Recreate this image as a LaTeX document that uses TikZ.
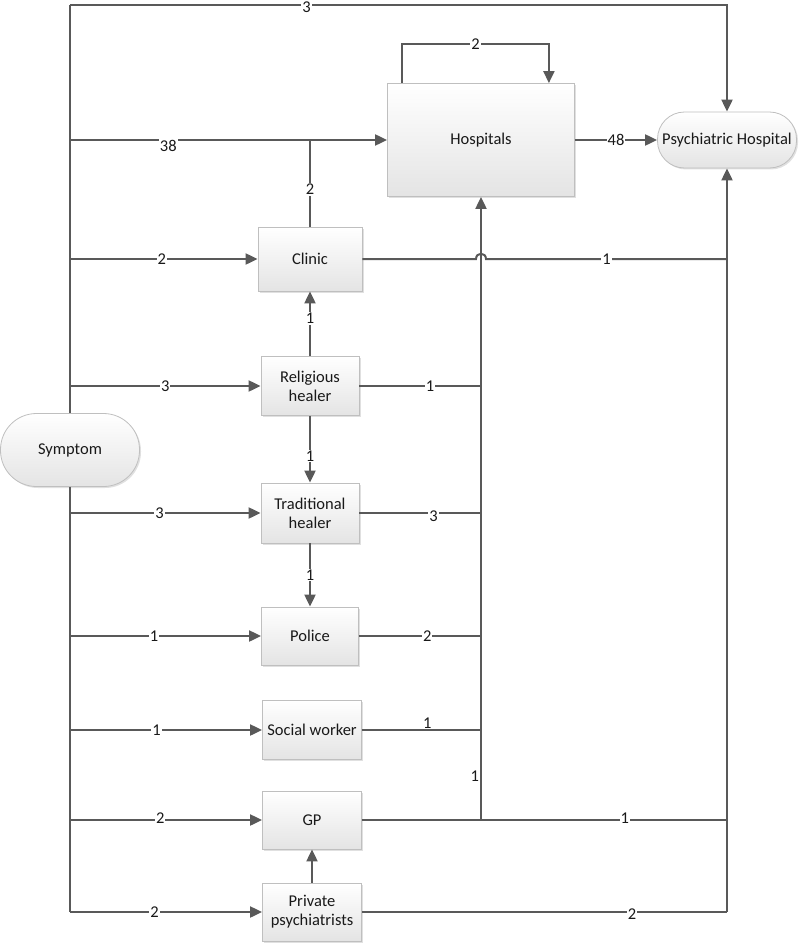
\documentclass[tikz,border=0pt]{standalone}
\usepackage{fontspec}
\setmainfont{Carlito}
\usetikzlibrary{arrows.meta,shadows,calc}
\definecolor{lc}{HTML}{595959}
\definecolor{bd}{HTML}{BFBFBF}
\definecolor{bg}{HTML}{E4E4E4}
\tikzset{
  box/.style={draw=bd, line width=0.8pt, top color=white, bottom color=bg, align=center,
    drop shadow={shadow xshift=1.5pt, shadow yshift=-1.5pt, fill=black, opacity=0.12},
    font=\fontsize{16.5}{19}\selectfont, text=black!90, inner sep=2pt},
  stad/.style={box, rounded corners=#1},
  ln/.style={draw=lc, line width=2pt},
  arr/.style={ln, -{Triangle[length=12pt,width=11pt]}},
  lbl/.style={fill=white, inner sep=1pt, font=\fontsize{16.5}{18}\selectfont, text=black!90},
}
\begin{document}
\begin{tikzpicture}[x=1pt,y=-1pt]
\useasboundingbox (0,0) rectangle (800,944);
% nodes
\node[stad=36pt, minimum width=139pt, minimum height=73pt] (sym) at (70,450) {Symptom};
\node[stad=27pt, minimum width=139pt, minimum height=56pt] (psy) at (727,140) {Psychiatric Hospital};
\node[box, minimum width=187pt, minimum height=113pt] (hos) at (481,140) {Hospitals};
\node[box, minimum width=104pt, minimum height=64pt] (cli) at (310,259) {Clinic};
\node[box, minimum width=98pt, minimum height=59pt] (rh) at (310,386) {Religious\\healer};
\node[box, minimum width=98pt, minimum height=60pt] (th) at (310,513) {Traditional\\healer};
\node[box, minimum width=97pt, minimum height=58pt] (pol) at (310,636) {Police};
\node[box, minimum width=99pt, minimum height=59pt] (sw) at (312,730) {Social worker};
\node[box, minimum width=99pt, minimum height=58pt] (gp) at (312,820) {GP};
\node[box, minimum width=99pt, minimum height=58pt] (pp) at (312,912) {Private\\psychiatrists};
\coordinate (top) at (70,5);
% spine
\draw[ln] (sym.north) -- (top);
\draw[ln] (sym.south) -- (sym.south |- pp.west);
% top line
\draw[arr] (top) -| (psy.north) node[lbl, pos=0.18, yshift=-2.5pt] {3};
% hospitals loop
\draw[arr] ([xshift=15pt]hos.north west) -- ++(0,-39) -| ([xshift=-26pt]hos.north east) node[lbl, pos=0.25] {2};
% hospitals -> psychiatric
\draw[arr] (hos.east) -- (psy.west) node[lbl, midway] {48};
% branches from spine
\draw[arr] (sym.north |- hos.west) -- (hos.west) node[lbl, pos=0.31, yshift=-6pt] {38};
\draw[arr] (sym.north |- cli.west) -- (cli.west) node[lbl, pos=0.49] {2};
\draw[arr] (sym.north |- rh.west) -- (rh.west) node[lbl, pos=0.5] {3};
\draw[arr] (sym.south |- th.west) -- (th.west) node[lbl, pos=0.47] {3};
\draw[arr] (sym.south |- pol.west) -- (pol.west) node[lbl, pos=0.44] {1};
\draw[arr] (sym.south |- sw.west) -- (sw.west) node[lbl, pos=0.45] {1};
\draw[arr] (sym.south |- gp.west) -- (gp.west) node[lbl, pos=0.47, yshift=2pt] {2};
\draw[arr] (sym.south |- pp.west) -- (pp.west) node[lbl, pos=0.44] {2};
% clinic -> hospitals line
\draw[ln] (cli.north) -- (cli.north |- hos.west) node[lbl, pos=0.43] {2};
% column arrows
\draw[arr] (rh.north) -- (cli.south) node[lbl, pos=0.58] {1};
\draw[arr] (rh.south) -- (th.north) node[lbl, pos=0.6] {1};
\draw[arr] (th.south) -- (pol.north) node[lbl, midway] {1};
\draw[arr] (pp.north) -- (gp.south);
% vertical to hospitals
\draw[arr] (hos.south |- gp.east) -- (hos.south) node[pos=0.07, left, inner sep=1pt, font=\fontsize{16.5}{18}\selectfont, text=black!90] {1};
% vertical to psychiatric hospital
\draw[arr] (psy.south |- pp.east) -- (psy.south);
% right branches
\draw[ln] (cli.east) -- ($(hos.south |- cli.east)+(-5,0)$) .. controls ($(hos.south |- cli.east)+(-5,-7)$) and ($(hos.south |- cli.east)+(5,-7)$) .. ($(hos.south |- cli.east)+(5,0)$) -- (psy.south |- cli.east) node[lbl, pos=0.5] {1};
\draw[ln] (rh.east) -- (hos.south |- rh.east) node[lbl, pos=0.58] {1};
\draw[ln] (th.east) -- (hos.south |- th.east) node[lbl, pos=0.61, yshift=-3pt] {3};
\draw[ln] (pol.east) -- (hos.south |- pol.east) node[lbl, pos=0.56] {2};
\draw[ln] (sw.east) -- (hos.south |- sw.east) node[lbl, pos=0.55, yshift=7pt] {1};
\draw[ln] (gp.east) -- (psy.south |- gp.east) node[lbl, pos=0.72, yshift=2pt] {1};
\draw[ln] (pp.east) -- (psy.south |- pp.east) node[lbl, pos=0.74, yshift=-2pt] {2};
\end{tikzpicture}
\end{document}
